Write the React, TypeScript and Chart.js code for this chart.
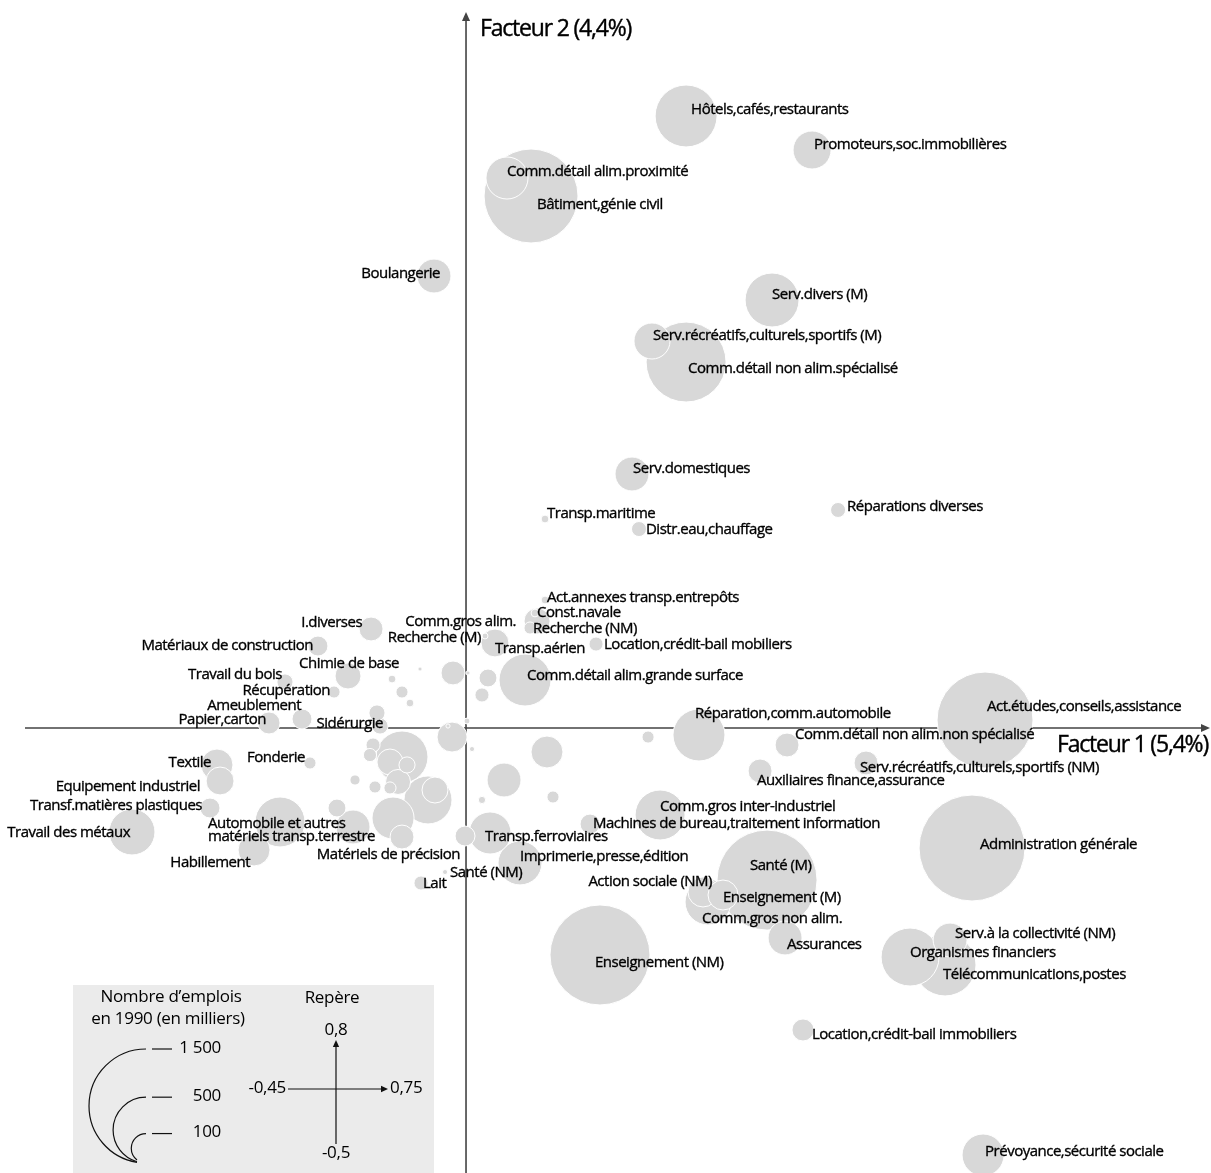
import { useEffect, useRef } from "react";
import { Chart, registerables } from "chart.js";

Chart.register(...registerables);

// ---- Data (factor coordinates, jobs in thousands, 1990) ----
const sectors: string[] = [
  "Hôtels,cafés,restaurants",
  "Promoteurs,soc.immobilières",
  "Bâtiment,génie civil",
  "Comm.détail alim.proximité",
  "Boulangerie",
  "Serv.divers (M)",
  "Serv.récréatifs,culturels,sportifs (M)",
  "Comm.détail non alim.spécialisé",
  "Serv.domestiques",
  "Transp.maritime",
  "Distr.eau,chauffage",
  "Réparations diverses",
  "I.diverses",
  "Matériaux de construction",
  "Chimie de base",
  "Travail du bois",
  "Récupération",
  "Ameublement",
  "Papier,carton",
  "Sidérurgie",
  "Comm.gros alim.",
  "Act.annexes transp.entrepôts",
  "Const.navale",
  "Recherche (NM)",
  "Recherche (M)",
  "Transp.aérien",
  "Location,crédit-bail mobiliers",
  "Comm.détail alim.grande surface",
  "Réparation,comm.automobile",
  "Act.études,conseils,assistance",
  "Comm.détail non alim.non spécialisé",
  "Serv.récréatifs,culturels,sportifs (NM)",
  "Auxiliaires finance,assurance",
  "Comm.gros inter-industriel",
  "Machines de bureau,traitement information",
  "Transp.ferroviaires",
  "Imprimerie,presse,édition",
  "Action sociale (NM)",
  "Santé (M)",
  "Enseignement (M)",
  "Comm.gros non alim.",
  "Assurances",
  "Enseignement (NM)",
  "Administration générale",
  "Serv.à la collectivité (NM)",
  "Organismes financiers",
  "Télécommunications,postes",
  "Location,crédit-bail immobiliers",
  "Prévoyance,sécurité sociale",
  "Textile",
  "Equipement industriel",
  "Transf.matières plastiques",
  "Travail des métaux",
  "Fonderie",
  "Automobile et autres\nmatériels transp.terrestre",
  "Habillement",
  "Matériels de précision",
  "Lait",
  "Santé (NM)",
  "", "", "", "", "", "", "", "", "", "", "", "", "", "", "", "", "", "", "",
  "", "", "", "", "", "", "", "", "", "", "", "", "", "",
];

const factor1: number[] = [
  0.2234, 0.3513, 0.066, 0.0416, -0.0325, 0.3107, 0.1888, 0.2234, 0.1685, 0.0802,
  0.1756, 0.3777, -0.0964, -0.1503, -0.1198, -0.1838, -0.134, -0.1665, -0.2, -0.0873,
  0.0721, 0.0802, 0.07, 0.065, 0.0193, 0.0294, 0.132, 0.0599, 0.2365, 0.5269,
  0.3259, 0.4061, 0.2985, 0.197, 0.1259, -0.001, 0.0548, 0.2406, 0.3056, 0.2609,
  0.2457, 0.3239, 0.136, 0.5137, 0.4914, 0.4508, 0.4863, 0.3421, 0.5249, -0.2528,
  -0.2497, -0.2599, -0.3391, -0.1584, -0.1888, -0.2152, -0.065, -0.0457, -0.0213,
  0.0822, 0.1848, 0.0386, 0.0883, 0.0162, 0.0244, -0.0132, 0.0223, 0.0162, 0.002,
  -0.0467, -0.0751, -0.065, -0.0569, -0.0904, -0.0142, -0.0183, 0.001, 0.0061,
  -0.065, -0.0944, -0.0975, -0.0772, -0.0599, -0.069, -0.0772, -0.0386, -0.0315,
  -0.1127, -0.0924, -0.0741, -0.1147, -0.131,
];

const factor2: number[] = [
  0.6838, 0.6458, 0.5944, 0.6145, 0.505, 0.4782, 0.4324, 0.4089, 0.2838, 0.2335,
  0.2223, 0.2436, 0.1106, 0.0916, 0.0581, 0.0514, 0.0402, 0.0101, 0.0056, 0.0022,
  0.1195, 0.1430, 0.1285, 0.1117, 0.1028, 0.095, 0.0938, 0.0536, -0.0078, 0.0089,
  -0.019, -0.0391, -0.048, -0.0972, -0.1073, -0.1207, -0.1508, -0.1832, -0.1699, -0.1866,
  -0.1944, -0.2346, -0.2536, -0.1341, -0.2369, -0.2559, -0.2648, -0.3374, -0.4771, -0.0413,
  -0.0592, -0.0894, -0.1162, -0.0391, -0.105, -0.1363, -0.1218, -0.1732, -0.1609,
  -0.0268, -0.0101, -0.0581, -0.0771, -0.0804, -0.1173, 0.0615, 0.0559, 0.0369, 0.0615,
  0.0659, 0.0547, 0.0402, 0.0279, 0.0168, -0.0101, 0.0022, 0.0078, -0.0235,
  -0.0324, -0.019, -0.0302, -0.038, -0.0413, -0.0603, -0.067, -0.0804, -0.0693,
  -0.0581, -0.0659, -0.1006, -0.1106, -0.0894,
];

const jobs: number[] = [
  443, 167, 1019, 204, 133, 336, 150, 738, 133, 7,
  26, 26, 66, 46, 78, 30, 17, 46, 56, 30,
  78, 7, 7, 17, 4, 90, 23, 312, 312, 1063,
  66, 66, 66, 288, 46, 46, 223, 104, 1154, 104,
  244, 133, 1154, 1296, 133, 388, 443, 56, 204, 118,
  90, 46, 244, 17, 288, 118, 66, 23, 3,
  118, 17, 133, 17, 6, 204, 66, 37, 23, 2,
  2, 7, 17, 7, 30, 104, 2, 4, 3,
  312, 23, 20, 78, 30, 72, 17, 266, 78,
  12, 17, 204, 133, 37,
];

// label placement relative to the bubble centre (pixels) and alignment
const labelDx: number[] = [
  5, 2, 6, 0, 6, 0, 1, 2, 1, 2,
  7, 9, -9, -5, -49, -3, -4, -1, -3, 3,
  -21, 2, 2, 3, -4, 0, 8, 2, -4, 2,
  8, -6, -3, 0, 3, 20, 0, 9, -17, 0,
  -6, 2, -5, 8, 5, 0, -2, 9, 2, -6,
  -20, -8, -2, -5, -72, -4, 58, 2, 5,
];
const labelDy: number[] = [
  -6, -5, 9, -6, -2, -5, -5, 7, -5, -5,
  1, -3, -6, 0, -12, -7, -1, -13, -3, -2,
  1, -2, 0, 1, 2, 6, 1, -4, -21, -13,
  -10, 5, 10, -8, 0, 1, -6, -10, -14, 3,
  17, 7, 8, -3, -6, -4, 10, 5, -3, -2,
  6, -2, 1, -5, 2, 13, 18, 1, 1,
];
const labelAlign: string[] = [
  "l", "l", "l", "l", "r", "l", "l", "l", "l", "l",
  "l", "l", "r", "r", "l", "r", "r", "r", "r", "r",
  "r", "l", "l", "l", "r", "l", "l", "l", "l", "l",
  "l", "l", "l", "l", "l", "l", "l", "r", "l", "l",
  "l", "l", "l", "l", "l", "l", "l", "l", "l", "r",
  "r", "r", "r", "r", "l", "r", "r", "l", "l",
];

const axisTitleX = "Facteur 1 (5,4%)";
const axisTitleY = "Facteur 2 (4,4%)";

const legendTitle = ["Nombre d’emplois", "en 1990 (en milliers)"];
const legendValues: number[] = [1500, 500, 100];
const legendTexts: string[] = ["1 500", "500", "100"];
const repereTitle = "Repère";
const repereTicks = { top: "0,8", bottom: "-0,5", left: "-0,45", right: "0,75" };

const X_MIN = -0.4731;
const X_MAX = 0.7563;
const Y_MIN = -0.4972;
const Y_MAX = 0.8134;

const R_FACTOR = 57 / Math.sqrt(1500);
const radius = (v: number) => R_FACTOR * Math.sqrt(v);

const LABEL_FONT = '15px "Open Sans", "DejaVu Sans", sans-serif';
const TEXT = "#000000";
const AXIS = "#444444";

function arrowHead(ctx: CanvasRenderingContext2D, x: number, y: number, dir: "up" | "right", size: number) {
  ctx.beginPath();
  if (dir === "up") {
    ctx.moveTo(x, y);
    ctx.lineTo(x - size * 0.45, y + size);
    ctx.lineTo(x + size * 0.45, y + size);
  } else {
    ctx.moveTo(x, y);
    ctx.lineTo(x - size, y - size * 0.45);
    ctx.lineTo(x - size, y + size * 0.45);
  }
  ctx.closePath();
  ctx.fill();
}

function boldText(ctx: CanvasRenderingContext2D, s: string, x: number, y: number) {
  ctx.fillText(s, x, y);
  ctx.strokeText(s, x, y);
}

const axesPlugin = {
  id: "crossAxes",
  beforeDatasetsDraw(chart: any) {
    const ctx: CanvasRenderingContext2D = chart.ctx;
    const xs = chart.scales.x;
    const ys = chart.scales.y;
    const x0 = xs.getPixelForValue(0);
    const y0 = ys.getPixelForValue(0);
    const { top, bottom, right } = chart.chartArea;
    ctx.save();
    ctx.strokeStyle = AXIS;
    ctx.fillStyle = AXIS;
    ctx.lineWidth = 1.6;
    ctx.beginPath();
    ctx.moveTo(x0, bottom);
    ctx.lineTo(x0, top + 14);
    ctx.moveTo(25, y0);
    ctx.lineTo(right - 4, y0);
    ctx.stroke();
    arrowHead(ctx, x0, top + 12, "up", 9);
    arrowHead(ctx, right - 1, y0, "right", 9);
    ctx.restore();
  },
};

const labelsPlugin = {
  id: "sectorLabels",
  afterDatasetsDraw(chart: any) {
    const ctx: CanvasRenderingContext2D = chart.ctx;
    const xs = chart.scales.x;
    const ys = chart.scales.y;
    ctx.save();
    ctx.fillStyle = TEXT;
    ctx.strokeStyle = TEXT;
    ctx.lineWidth = 0.35;
    ctx.textBaseline = "middle";
    ctx.font = LABEL_FONT;
    (ctx as any).letterSpacing = "-0.5px";
    sectors.forEach((name, i) => {
      if (!name) return;
      const px = xs.getPixelForValue(factor1[i]) + labelDx[i];
      const py = ys.getPixelForValue(factor2[i]) + labelDy[i];
      ctx.textAlign = labelAlign[i] === "r" ? "right" : "left";
      name.split("\n").forEach((line, k) => boldText(ctx, line, px, py + k * 13));
    });

    // axis titles
    const x0 = xs.getPixelForValue(0);
    const y0 = ys.getPixelForValue(0);
    ctx.font = '23px "Open Sans", "DejaVu Sans", sans-serif';
    (ctx as any).letterSpacing = "-1.2px";
    ctx.lineWidth = 0.4;
    ctx.textAlign = "left";
    boldText(ctx, axisTitleY, x0 + 14, 29);
    ctx.textAlign = "right";
    boldText(ctx, axisTitleX, chart.chartArea.right - 3, y0 + 17);
    ctx.restore();

    // legend box
    ctx.save();
    ctx.fillStyle = "#ebebeb";
    ctx.fillRect(73, 985, 361, 190);
    ctx.fillStyle = TEXT;
    ctx.strokeStyle = "#111";
    ctx.font = '17px "Open Sans", "DejaVu Sans", sans-serif';
    (ctx as any).letterSpacing = "-0.3px";
    ctx.textBaseline = "middle";
    ctx.textAlign = "center";
    ctx.fillText(legendTitle[0], 171, 997);
    ctx.fillText(legendTitle[1], 168, 1019);
    ctx.fillText(repereTitle, 332, 998);

    const baseY = 1163;
    const cx = 146;
    ctx.lineWidth = 1.2;
    legendValues.forEach((v, k) => {
      const r = radius(v);
      const cy = baseY - r;
      const d = Math.asin(Math.min(1, 9 / r));
      ctx.beginPath();
      ctx.arc(cx, cy, r, -Math.PI / 2, Math.PI / 2 + d, true);
      ctx.stroke();
      ctx.beginPath();
      ctx.moveTo(cx + 6, cy - r);
      ctx.lineTo(cx + 26, cy - r);
      ctx.stroke();
      ctx.textAlign = "right";
      ctx.fillText(legendTexts[k], 221, cy - r - 1);
    });

    // repère cross
    ctx.lineWidth = 1.2;
    ctx.fillStyle = "#111";
    ctx.beginPath();
    ctx.moveTo(336, 1144);
    ctx.lineTo(336, 1046);
    ctx.moveTo(288, 1089);
    ctx.lineTo(382, 1089);
    ctx.stroke();
    arrowHead(ctx, 336, 1040, "up", 7);
    arrowHead(ctx, 388, 1089, "right", 7);
    ctx.fillStyle = TEXT;
    ctx.textAlign = "center";
    ctx.fillText(repereTicks.top, 336, 1030);
    ctx.fillText(repereTicks.bottom, 336, 1153);
    ctx.textAlign = "right";
    ctx.fillText(repereTicks.left, 286, 1088);
    ctx.textAlign = "left";
    ctx.fillText(repereTicks.right, 390, 1088);
    ctx.restore();
  },
};

export default function App() {
  const canvasRef = useRef<HTMLCanvasElement | null>(null);

  useEffect(() => {
    if (!canvasRef.current) return;
    const order = jobs.map((_, i) => i).sort((a, b) => jobs[b] - jobs[a]);
    const points = order.map((i) => ({ x: factor1[i], y: factor2[i], r: radius(jobs[i]) }));
    const chart = new Chart(canvasRef.current, {
      type: "bubble",
      data: {
        datasets: [
          {
            data: points,
            backgroundColor: "#d8d8d8",
            borderColor: "#ffffff",
            borderWidth: 1,
            hoverBorderWidth: 1,
            clip: false as any,
          } as any,
        ],
      },
      options: {
        animation: false,
        responsive: false,
        devicePixelRatio: 1,
        layout: { padding: 0, autoPadding: false } as any,
        events: [],
        plugins: { legend: { display: false }, tooltip: { enabled: false } },
        scales: {
          x: { type: "linear", min: X_MIN, max: X_MAX, display: false },
          y: { type: "linear", min: Y_MIN, max: Y_MAX, display: false },
        },
      },
      plugins: [axesPlugin, labelsPlugin],
    });
    return () => chart.destroy();
  }, []);

  return (
    <div style={{ position: "absolute", left: 0, top: 0, width: 1211, height: 1173, background: "#fff" }}>
      <canvas ref={canvasRef} width={1211} height={1173} />
    </div>
  );
}
